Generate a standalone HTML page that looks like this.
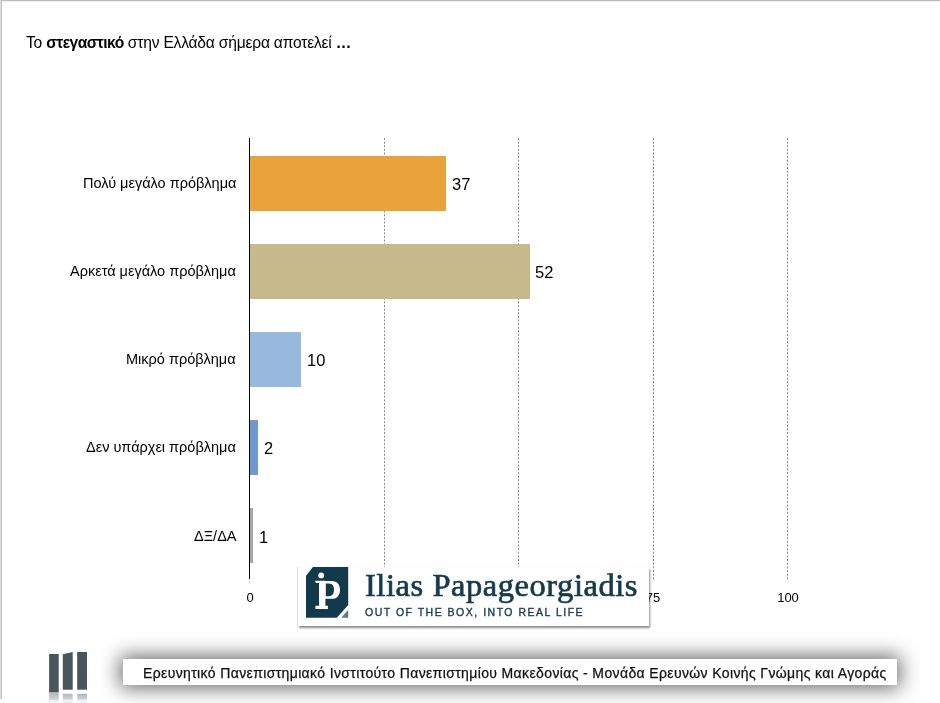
<!DOCTYPE html>
<html><head><meta charset="utf-8">
<style>
html,body{margin:0;padding:0;}
body{width:940px;height:703px;position:relative;overflow:hidden;background:#fff;-webkit-font-smoothing:antialiased;font-family:"Liberation Sans",sans-serif;color:#000;}
.abs{position:absolute;}
.lab,.val,.tick,#title,#ftext,#lname,#ltag{will-change:transform;}
#topline{left:0;top:0;width:940px;height:1px;background:#bbb;border-bottom:1px solid #eee;}
#leftline{left:0;top:0;width:1px;height:699px;background:#dcdcdc;border-right:1px solid #c2c2c2;}
#title{left:26px;top:34px;font-size:15.6px;letter-spacing:-0.2px;white-space:nowrap;}
.grid{position:absolute;top:138px;height:441px;width:0;border-left:1px dashed #8a8a8a;}
#axis{left:249px;top:138px;width:1px;height:441px;background:#000;}
.bar{position:absolute;left:250px;height:55px;}
.lab{position:absolute;right:704px;font-size:14.5px;white-space:nowrap;text-align:right;}
.val{position:absolute;font-size:16.5px;white-space:nowrap;}
.tick{position:absolute;top:590px;font-size:13px;white-space:nowrap;transform:translateX(-50%);}

#logo{left:298px;top:567px;width:351px;height:59px;background:#fff;box-shadow:0.5px 1.5px 2px rgba(0,0,0,0.45),-1px 0 1px rgba(0,0,0,0.1);}
#lname{left:67px;top:0px;font-family:"Liberation Serif",serif;font-weight:normal;-webkit-text-stroke:0.7px #163a4b;font-size:32.5px;letter-spacing:0.55px;color:#163a4b;white-space:nowrap;}
#ltag{left:67px;top:39px;font-size:10.5px;font-weight:normal;-webkit-text-stroke:0.35px #163a4b;letter-spacing:1.5px;color:#163a4b;white-space:nowrap;}
#fbars{left:48px;top:652px;width:50px;height:55px;}
#fbox{left:123px;top:659px;width:774px;height:26px;background:#fff;box-shadow:0 0 20px 3px rgba(0,0,0,0.6);}
#ftext{position:absolute;left:20px;top:6px;font-size:14px;letter-spacing:0.37px;white-space:nowrap;color:#111;-webkit-text-stroke:0.25px #111;}
</style></head><body>
<div class="abs" id="topline"></div>
<div class="abs" id="leftline"></div>
<div class="abs" id="title">Το <b style="letter-spacing:-0.55px">στεγαστικό</b> στην Ελλάδα σήμερα αποτελεί <b>…</b></div>

<svg class="abs" style="left:0;top:0" width="940" height="703">
<g stroke="#888" stroke-width="1" stroke-dasharray="2 1.63">
<line x1="384.5" y1="138" x2="384.5" y2="580"/>
<line x1="518.5" y1="138" x2="518.5" y2="580"/>
<line x1="653.5" y1="138" x2="653.5" y2="580"/>
<line x1="787.5" y1="138" x2="787.5" y2="580"/>
</g></svg>

<div class="bar" style="top:156px;width:196px;background:#E8A33D"></div>
<div class="bar" style="top:244px;width:280px;background:#C6B98C"></div>
<div class="bar" style="top:332px;width:51px;background:#97B9DD"></div>
<div class="bar" style="top:420px;width:8px;background:#6E98CF"></div>
<div class="bar" style="top:508px;width:3px;background:#A6A6A6"></div>
<div class="abs" id="axis"></div>

<div class="lab" style="top:175px">Πολύ μεγάλο πρόβλημα</div>
<div class="lab" style="top:263px">Αρκετά μεγάλο πρόβλημα</div>
<div class="lab" style="top:351px">Μικρό πρόβλημα</div>
<div class="lab" style="top:439px">Δεν υπάρχει πρόβλημα</div>
<div class="lab" style="top:528px">ΔΞ/ΔΑ</div>

<div class="val" style="left:452px;top:175px">37</div>
<div class="val" style="left:535px;top:263px">52</div>
<div class="val" style="left:307px;top:351px">10</div>
<div class="val" style="left:264px;top:439px">2</div>
<div class="val" style="left:259px;top:528px">1</div>

<div class="tick" style="left:250px">0</div>
<div class="tick" style="left:653px">75</div>
<div class="tick" style="left:788px">100</div>


<div class="abs" id="logo">
<svg class="abs" style="left:0;top:0" width="352" height="58" viewBox="0 0 352 58">
<path d="M15 0 L50.2 0 L50.2 38 L38.8 50.7 L8 50.7 L8 8.8 Z" fill="#123a4c"/>
<path d="M43.3 50.7 L50.2 50.7 L50.2 42.8 Z" fill="#5f7a8a"/>
<circle cx="23.2" cy="8.4" r="2.9" fill="#fff"/>
<path d="M17.1 13.8 L27.4 13.8 L27.4 38.8 L29.9 38.8 L29.9 42 L17.4 42 L17.4 38.8 L21 38.8 L21 16 L17.8 16 Z" fill="#fff"/>
<path d="M27 14.1 L34 14.1 C39.2 14.1 42 17.6 42 22.9 C42 28.2 39.2 31.7 34 31.7 L27 31.7 Z M27.7 16.4 L30.8 16.4 C34.6 16.4 36 19.2 36 22.8 C36 26.4 34.6 29.2 30.8 29.2 L27.7 29.2 Z" fill="#fff" fill-rule="evenodd"/>
</svg>
<div class="abs" id="lname">Ilias Papageorgiadis</div>
<div class="abs" id="ltag">OUT OF THE BOX, INTO REAL LIFE</div>
</div>
<div class="abs" id="fbars">
<svg width="50" height="51" viewBox="0 0 50 51">
<defs><linearGradient id="rf" x1="0" y1="0" x2="0" y2="1"><stop offset="0" stop-color="#b0b5b7"/><stop offset="1" stop-color="#d4d7d8"/></linearGradient></defs>
<rect x="1.1" y="2" width="9.6" height="38.5" fill="#48555b"/>
<path d="M14.8 2.3 L24.7 0 L24.7 37.7 L14.8 37.7 Z" fill="#48555b"/>
<rect x="29.2" y="0" width="9.8" height="37.7" fill="#48555b"/>
<rect x="1.1" y="40.5" width="9.6" height="7.5" fill="url(#rf)"/>
<rect x="14.8" y="41.8" width="9.9" height="6" fill="url(#rf)"/>
<rect x="29.2" y="41.8" width="9.8" height="6" fill="url(#rf)"/>
<rect x="1.1" y="48.2" width="9.6" height="3" fill="#eef0f0"/>
<rect x="14.8" y="48.2" width="9.9" height="3" fill="#eef0f0"/>
<rect x="29.2" y="48.2" width="9.8" height="3" fill="#eef0f0"/>
</svg>
</div>
<div class="abs" id="fbox"><span id="ftext">Ερευνητικό Πανεπιστημιακό Ινστιτούτο Πανεπιστημίου Μακεδονίας - Μονάδα Ερευνών Κοινής Γνώμης και Αγοράς</span></div>
</body></html>
